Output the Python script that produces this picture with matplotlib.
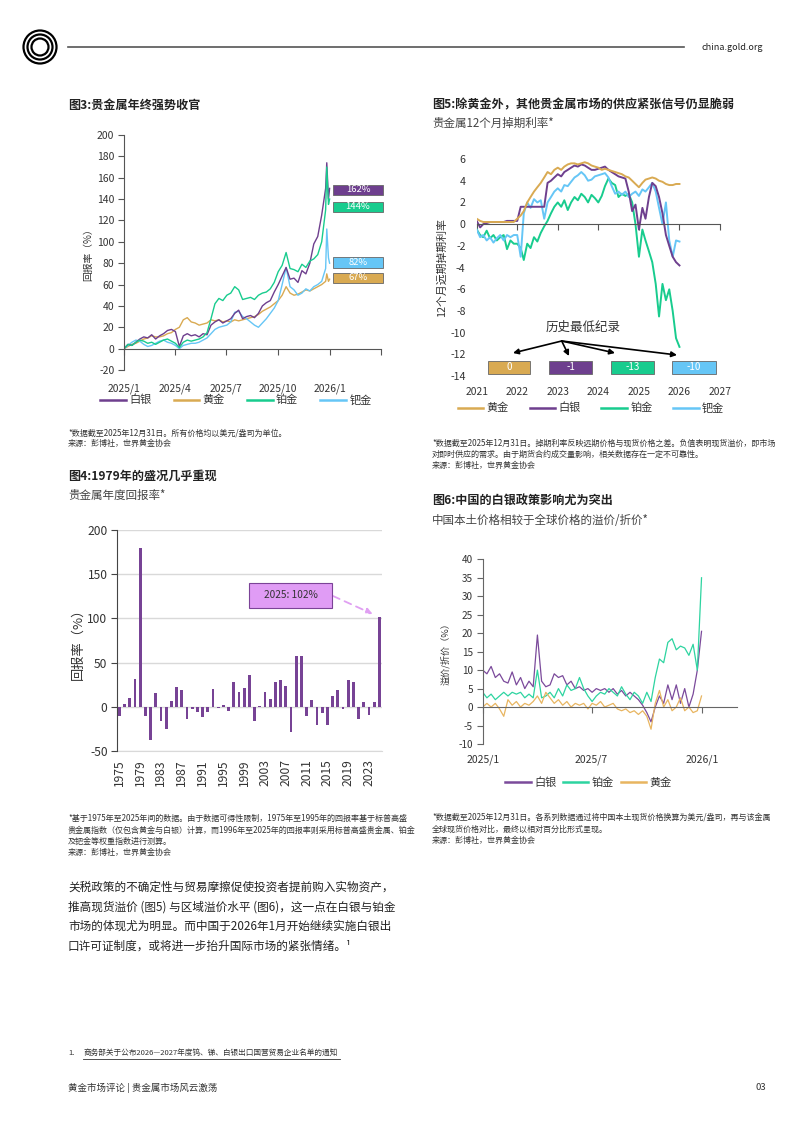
import numpy as np
import pandas as pd
import matplotlib
matplotlib.use("Agg")
import matplotlib.pyplot as plt
from matplotlib.patches import Rectangle, Circle
from matplotlib.lines import Line2D

plt.rcParams['font.family'] = ['Noto Sans CJK SC', 'DejaVu Sans']
plt.rcParams['axes.unicode_minus'] = False

# ---------------- data ----------------
# fig3: cumulative 2025 returns (%), weekly + last days of Dec
dates3 = list(pd.date_range('2025-01-01', periods=52, freq='7D')) + \
    list(pd.to_datetime(['2025-12-26', '2025-12-29', '2025-12-31']))
silver3 = [0, 4, 3, 6, 9, 11, 10, 13, 9, 12, 14, 17, 18, 16, 2, 12, 14, 12, 13, 11,
           14, 13, 22, 25, 27, 24, 26, 28, 33, 36, 28, 30, 31, 29, 33, 40, 43, 45, 53, 60,
           68, 76, 65, 66, 62, 73, 70, 80, 98, 105, 125, 150, 174, 140, 150]
gold3 = [0, 2, 4, 5, 7, 9, 10, 12, 11, 11, 12, 14, 15, 18, 20, 27, 29, 25, 24, 22,
         23, 24, 27, 26, 27, 25, 26, 25, 27, 26, 27, 28, 29, 30, 32, 35, 37, 39, 42, 45,
         50, 58, 52, 50, 51, 53, 55, 54, 56, 58, 60, 63, 70, 63, 65]
platinum3 = [0, 4, 3, 6, 8, 7, 5, 6, 4, 6, 8, 9, 7, 5, 1, 6, 8, 7, 8, 9,
             11, 15, 28, 42, 47, 45, 50, 52, 58, 55, 46, 47, 48, 46, 50, 52, 53, 56, 62, 72,
             78, 90, 75, 74, 72, 79, 76, 82, 84, 88, 100, 130, 170, 135, 140]
palladium3 = [0, 3, 6, 8, 7, 4, 2, 3, 5, 7, 8, 6, 5, 3, 0, 3, 4, 5, 5, 6,
              8, 10, 14, 18, 20, 21, 22, 25, 34, 35, 30, 28, 25, 22, 20, 24, 28, 33, 38, 45,
              60, 76, 58, 55, 50, 52, 56, 54, 58, 60, 63, 75, 112, 85, 80]
labels3 = ['162%', '144%', '82%', '67%']
ticks3 = pd.to_datetime(['2025-01-01', '2025-04-01', '2025-07-01', '2025-10-01', '2026-01-01', '2026-04-01'])
ticklabels3 = ['2025/1', '2025/4', '2025/7', '2025/10', '2026/1', '']

# fig5: 12-month forward rates (%), monthly
dates5 = pd.date_range('2021-01-01', '2026-01-01', freq='MS')
gold5 = [0.5, 0.3, 0.2, 0.2, 0.2, 0.2, 0.2, 0.2, 0.2, 0.2, 0.2, 0.2,
         0.5, 0.8, 1.2, 2.0, 2.5, 3.0, 3.4, 3.8, 4.3, 4.8, 4.6, 5.0,
         5.2, 5.0, 5.3, 5.5, 5.6, 5.6, 5.5, 5.6, 5.7, 5.6, 5.4, 5.3,
         5.2, 5.0, 5.1, 5.0, 4.9, 4.8, 4.7, 4.6, 4.4, 4.3, 4.0, 3.7,
         3.4, 3.8, 4.1, 4.2, 4.3, 4.2, 4.0, 3.9, 3.7, 3.6, 3.6, 3.7, 3.7]
silver5 = [0.3, -0.3, 0.0, 0.1, 0.2, 0.2, 0.2, 0.2, 0.2, 0.3, 0.3, 0.3,
           0.3, 1.6, 1.6, 1.6, 1.6, 1.6, 1.6, 1.6, 1.6, 3.8, 4.0, 4.3,
           4.6, 4.4, 4.8, 5.0, 5.2, 5.4, 5.3, 5.5, 5.4, 5.2, 5.0, 5.0,
           5.1, 5.2, 5.3, 5.0, 4.8, 4.6, 4.4, 4.3, 4.2, 3.0, 1.2, 1.8,
           -0.5, 1.5, 0.5, 2.5, 3.8, 3.5, 2.5, 1.0, -1.0, -2.0, -3.0, -3.5, -3.8]
platinum5 = [-0.5, -1.0, -1.2, -0.6, -1.3, -1.0, -1.5, -1.2, -1.0, -2.3, -1.5, -1.8,
             -1.8, -2.2, -3.3, -1.8, -2.2, -1.2, -1.6, -0.8, -0.2, 0.3, 1.0, 1.6,
             2.0, 1.6, 2.2, 1.3, 2.0, 2.5, 2.2, 2.8, 2.5, 2.0, 2.7, 2.4,
             2.0, 2.6, 3.5, 4.2, 3.8, 3.6, 2.5, 2.8, 2.6, 2.8, 2.0, 0.0,
             -3.0, -0.5, -1.5, -2.5, -3.5, -5.5, -8.5, -5.5, -7.0, -6.0, -8.0, -10.5, -11.3]
palladium5 = [-0.5, -1.2, -1.0, -1.5, -1.2, -1.7, -1.3, -1.0, -1.5, -1.0, -1.2, -1.0,
              -1.0, -3.0, 1.0, 2.0, 1.5, 2.3, 2.0, 2.2, 0.5, 2.0, 2.5, 3.0,
              3.3, 3.0, 3.6, 3.5, 3.9, 4.3, 4.5, 4.8, 4.5, 4.0, 4.1, 4.4,
              4.5, 4.6, 4.7, 4.3, 3.5, 2.8, 3.0, 2.7, 3.0, 2.5, 2.8, 3.0,
              2.6, 3.2, 3.0, 3.4, 3.8, 3.0, 1.5, 0.0, 2.0, -1.5, -3.0, -1.5, -1.6]
lows5 = ['0', '-1', '-13', '-10']
years5 = [2021, 2022, 2023, 2024, 2025, 2026, 2027]

# fig4: annual returns (%)
years4 = list(range(1975, 2026))
returns4 = [-10, 3, 9.5, 32, 180, -10, -38, 15.5, -16, -25,
            7, 22, 18.5, -14, -2, -6, -12, -5.5, 20, -1.5,
            2, -5, 28, 17, 21, 36, -16, 1, 17, 9,
            27.5, 30, 24, -28, 58, 57, -10.5, 7.5, -21, -7,
            -21, 12.5, 19, -3, 30.5, 28, -14, 5, -9, 5, 102]

# fig6: China premium/discount (%), weekly
dates6 = pd.date_range('2025-01-01', periods=53, freq='7D')
silver6 = [10, 9, 11, 8, 9, 7, 6.5, 9.5, 6, 8, 5, 7, 5.5, 19.5, 7, 5.5, 6, 9, 8, 8.5,
           6, 7, 5, 5.5, 4.5, 5, 4, 5, 4.5, 5, 4, 5, 3.5, 4.5, 3, 4, 3, 2, 0.5, -1.5,
           -4, 0, 3, 1, 6, 2, 6, 1, 5, 0, 3.5, 10, 20.5]
platinum6 = [4, 2.5, 3.5, 2, 3, 4, 3, 4, 3.5, 4, 2.5, 3.5, 2.5, 10, 2.5, 3, 4, 2.5, 5, 3,
             6, 4.5, 5, 8, 5, 3, 1.5, 3, 4, 3.5, 5, 4, 3, 5.5, 3.5, 2, 4, 3, 1, 4,
             1.5, 8, 13, 12, 17.5, 18.5, 15.5, 16.5, 16, 14, 17, 10, 35]
gold6 = [0, 1, 0, 1, -0.5, -2.5, 2, 0.5, 1.5, 0, 1, 0.5, 1.5, 3, 1, 4, 2.5, 1, 2, 0.5,
         1.5, 0, 1, 0.5, 1, -0.5, 1, 0.5, 1.5, 0, 0.5, 1, -0.5, -1, -0.5, -1.5, -1, -2, -1, -2.5,
         -6, 1, 4.5, 0, 2, -1, 0, 2.5, -1, 0, -1.5, -1, 3]
ticks6 = pd.to_datetime(['2025-01-01', '2025-07-01', '2026-01-01'])
ticklabels6 = ['2025/1', '2025/7', '2026/1']

C_SILVER = '#6E3F8E'
C_GOLD = '#D9AA52'
C_PLAT = '#18CC8E'
C_PALL = '#66C6F6'
TXT = '#333333'

W, H = 794, 1123
fig = plt.figure(figsize=(W / 100, H / 100), dpi=100)


def fx(x):
    return x / W


def fy(y):
    return 1 - y / H


def box(x0, y0, x1, y1):
    return [fx(x0), fy(y1), (x1 - x0) / W, (y1 - y0) / H]


def frect(x0, y0, x1, y1, **kw):
    fig.add_artist(Rectangle((fx(x0), fy(y1)), (x1 - x0) / W, (y1 - y0) / H,
                             transform=fig.transFigure, **kw))


def ftext(x, y, s, size, **kw):
    kw.setdefault('color', TXT)
    kw.setdefault('va', 'center')
    fig.text(fx(x), fy(y), s, fontsize=size, **kw)


# ---------------- header / footer ----------------
for r in [0.165, 0.125, 0.085]:
    fig.add_artist(Circle((0.40, (H - 47) / 100), r, transform=fig.dpi_scale_trans,
                          fill=False, lw=1.6, color='black'))
fig.add_artist(Line2D([fx(68), fx(684)], [fy(47), fy(47)], transform=fig.transFigure,
                      color='#555555', lw=1.2))
ftext(763, 47, 'china.gold.org', 6.5, ha='right', color='#222222')

ftext(68, 1053, '1.', 5.5)
ftext(83, 1053, '商务部关于公布2026—2027年度钨、锑、白银出口国营贸易企业名单的通知', 5.5)
fig.add_artist(Line2D([fx(83), fx(340)], [fy(1059), fy(1059)], transform=fig.transFigure,
                      color=TXT, lw=0.6))
ftext(68, 1088, '黄金市场评论 | 贵金属市场风云激荡', 6.8)
ftext(766, 1088, '03', 6.8, ha='right')

# ---------------- fig3 ----------------
ftext(68, 105, '图3:贵金属年终强势收官', 8.7, fontweight='bold', color='#222222')
ax3 = fig.add_axes(box(124, 135, 381, 370))
ax3.plot(dates3, gold3, color=C_GOLD, lw=1.0)
ax3.plot(dates3, palladium3, color=C_PALL, lw=1.0)
ax3.plot(dates3, silver3, color=C_SILVER, lw=1.0)
ax3.plot(dates3, platinum3, color=C_PLAT, lw=1.0)
ax3.set_xlim(ticks3[0], ticks3[-1])
ax3.set_ylim(-20, 200)
ax3.set_yticks(range(-20, 201, 20))
ax3.set_xticks(ticks3)
ax3.set_xticklabels(ticklabels3)
for s in ['top', 'right']:
    ax3.spines[s].set_visible(False)
ax3.spines['bottom'].set_position(('data', 0))
for s in ['bottom', 'left']:
    ax3.spines[s].set_color('#555555')
ax3.tick_params(axis='y', labelsize=7.5, length=4, color='#555555', labelcolor=TXT, pad=3)
ax3.tick_params(axis='x', labelsize=7.4, length=4, color='#555555', labelcolor=TXT, pad=21)
ax3.set_ylabel('回报率（%）', fontsize=7, color=TXT, labelpad=3)
box_cols3 = [C_SILVER, C_PLAT, C_PALL, C_GOLD]
box_y3 = [190, 206.7, 262.5, 277.7]
for lab, col, yc in zip(labels3, box_cols3, box_y3):
    frect(333, yc - 5, 383, yc + 5, facecolor=col, edgecolor='#666666', lw=0.6)
    ftext(358, yc, lab, 6.8, ha='center', color='white')
h3 = [Line2D([], [], color=c, lw=1.8) for c in [C_SILVER, C_GOLD, C_PLAT, C_PALL]]
fig.legend(h3, ['白银', '黄金', '铂金', '钯金'], loc='center', bbox_to_anchor=(fx(236), fy(400)),
           ncol=4, frameon=False, fontsize=8, handlelength=2.3, handletextpad=0.3,
           columnspacing=2.0, labelcolor=TXT)
ftext(68, 433, '*数据截至2025年12月31日。所有价格均以美元/盎司为单位。', 5.8)
ftext(68, 443.5, '来源：彭博社，世界黄金协会', 5.8)

# ---------------- fig5 ----------------
ftext(432, 105, '图5:除黄金外，其他贵金属市场的供应紧张信号仍显脆弱', 8.7, fontweight='bold', color='#222222')
ftext(432, 123.5, '贵金属12个月掉期利率*', 8.3, color='#444444')
ax5 = fig.add_axes(box(476.7, 159, 720, 376.2))
ax5.plot(dates5, platinum5, color=C_PLAT, lw=1.4)
ax5.plot(dates5, palladium5, color=C_PALL, lw=1.4)
ax5.plot(dates5, silver5, color=C_SILVER, lw=1.4)
ax5.plot(dates5, gold5, color=C_GOLD, lw=1.4)
yt5 = [pd.Timestamp(f'{y}-01-01') for y in years5]
ax5.set_xlim(yt5[0], yt5[-1])
ax5.set_ylim(-14, 6)
ax5.set_yticks(range(-14, 7, 2))
ax5.set_xticks(yt5)
ax5.set_xticklabels([str(y) for y in years5])
for s in ['top', 'right', 'left']:
    ax5.spines[s].set_visible(False)
ax5.spines['bottom'].set_position(('data', 0))
ax5.spines['bottom'].set_color('#555555')
ax5.tick_params(axis='y', labelsize=7.6, length=0, labelcolor=TXT, pad=8)
ax5.tick_params(axis='x', labelsize=7.4, length=4, color='#555555', labelcolor=TXT, pad=113)
ax5.set_ylabel('12个月远期掉期利率', fontsize=7.8, color=TXT, labelpad=2)
ftext(583, 327, '历史最低纪录', 9, ha='center', color='#333333')
for tx, ty in [(513, 353), (569, 356), (615, 353), (677, 355)]:
    ax5.annotate('', xy=(fx(tx), fy(ty)), xytext=(fx(561.7), fy(341)),
                 xycoords='figure fraction', textcoords='figure fraction',
                 arrowprops=dict(arrowstyle='-|>', color='black', lw=1.2,
                                 mutation_scale=8, shrinkA=0, shrinkB=0),
                 annotation_clip=False)
box_x5 = [(487.7, 530), (549, 592), (610.7, 654), (672, 716)]
for lab, col, (x0, x1) in zip(lows5, [C_GOLD, C_SILVER, C_PLAT, C_PALL], box_x5):
    frect(x0, 360.7, x1, 374.3, facecolor=col, edgecolor='#666666', lw=0.6)
    ftext((x0 + x1) / 2, 367.5, lab, 7, ha='center', color='white')
h5 = [Line2D([], [], color=c, lw=1.8) for c in [C_GOLD, C_SILVER, C_PLAT, C_PALL]]
fig.legend(h5, ['黄金', '白银', '铂金', '钯金'], loc='center', bbox_to_anchor=(fx(591), fy(408)),
           ncol=4, frameon=False, fontsize=8, handlelength=2.3, handletextpad=0.3,
           columnspacing=1.85, labelcolor=TXT)
ftext(432, 443, '*数据截至2025年12月31日。掉期利率反映远期价格与现货价格之差。负值表明现货溢价，即市场', 5.8)
ftext(432, 454, '对即时供应的需求。由于期货合约成交量影响，相关数据存在一定不可靠性。', 5.8)
ftext(432, 465, '来源：彭博社，世界黄金协会', 5.8)

# ---------------- fig4 ----------------
ftext(68, 476, '图4:1979年的盛况几乎重现', 8.7, fontweight='bold', color='#222222')
ftext(68, 495, '贵金属年度回报率*', 8.3, color='#444444')
ax4 = fig.add_axes(box(117.3, 530, 381.7, 751))
ax4.bar(years4, returns4, width=0.55, color='#774395', zorder=3)
ax4.set_xlim(1974.6, 2025.45)
ax4.set_ylim(-50, 200)
ax4.set_yticks(range(-50, 201, 50))
ax4.set_xticks(years4[::4])
ax4.set_xticklabels([str(y) for y in years4[::4]], rotation=90)
ax4.grid(axis='y', color='#D9D9D9', lw=1.0, zorder=0)
for s in ['top', 'right']:
    ax4.spines[s].set_visible(False)
ax4.spines['bottom'].set_color('#D9D9D9')
ax4.spines['left'].set_color('#444444')
ax4.spines['left'].set_zorder(4)
ax4.tick_params(axis='y', labelsize=8.7, length=4, color='#444444', labelcolor=TXT, pad=3)
ax4.tick_params(axis='x', labelsize=8.7, length=0, labelcolor=TXT, pad=6)
ax4.set_ylabel('回报率（%）', fontsize=9.5, color=TXT, labelpad=2)
frect(249, 583, 332, 608, facecolor='#E09CF5', edgecolor='#7B4397', lw=0.8)
ftext(290.5, 595.5, '2025: 102%', 7.3, ha='center')
ax4.annotate('', xy=(2023.7, 105), xytext=(fx(333), fy(596)),
             xycoords='data', textcoords='figure fraction',
             arrowprops=dict(arrowstyle='-|>', color='#E0A0F2', lw=1.3, ls=(0, (4, 3)),
                             mutation_scale=9, shrinkA=0, shrinkB=0),
             annotation_clip=False)
ftext(68, 818, '*基于1975年至2025年间的数据。由于数据可得性限制，1975年至1995年的回报率基于标普高盛', 5.8)
ftext(68, 830, '贵金属指数（仅包含黄金与白银）计算，而1996年至2025年的回报率则采用标普高盛贵金属、铂金', 5.8)
ftext(68, 841, '及钯金等权重指数进行测算。', 5.8)
ftext(68, 852, '来源：彭博社，世界黄金协会', 5.8)

# ---------------- fig6 ----------------
ftext(432, 500.5, '图6:中国的白银政策影响尤为突出', 8.7, fontweight='bold', color='#222222')
ftext(432, 520, '中国本土价格相较于全球价格的溢价/折价*', 8.3, color='#444444')
ax6 = fig.add_axes(box(482.7, 559.3, 737, 744))
ax6.plot(dates6, silver6, color='#7B4A9B', lw=0.9)
ax6.plot(dates6, platinum6, color='#2DD4A0', lw=0.9)
ax6.plot(dates6, gold6, color='#E8B560', lw=0.9)
ax6.set_xlim(pd.Timestamp('2025-01-01'), pd.Timestamp('2026-02-28'))
ax6.set_ylim(-10, 40)
ax6.set_yticks(range(-10, 41, 5))
ax6.set_xticks(ticks6)
ax6.set_xticklabels(ticklabels6)
for s in ['top', 'right']:
    ax6.spines[s].set_visible(False)
ax6.spines['bottom'].set_position(('data', 0))
for s in ['bottom', 'left']:
    ax6.spines[s].set_color('#666666')
ax6.tick_params(axis='y', labelsize=7.2, length=4, color='#666666', labelcolor=TXT, pad=3)
ax6.tick_params(axis='x', labelsize=7.5, length=4, color='#666666', labelcolor=TXT, pad=30)
ax6.set_ylabel('溢价/折价（%）', fontsize=6.6, color=TXT, labelpad=6)
h6 = [Line2D([], [], color=c, lw=1.8) for c in ['#7B4A9B', '#2DD4A0', '#E8B560']]
fig.legend(h6, ['白银', '铂金', '黄金'], loc='center', bbox_to_anchor=(fx(588.5), fy(783)),
           ncol=3, frameon=False, fontsize=8, handlelength=2.3, handletextpad=0.3,
           columnspacing=0.6, labelcolor=TXT)
ftext(432, 817, '*数据截至2025年12月31日。各系列数据通过将中国本土现货价格换算为美元/盎司，再与该金属', 5.8)
ftext(432, 829, '全球现货价格对比，最终以相对百分比形式呈现。', 5.8)
ftext(432, 840, '来源：彭博社，世界黄金协会', 5.8)

# ---------------- body text ----------------
body = ['关税政策的不确定性与贸易摩擦促使投资者提前购入实物资产，',
        '推高现货溢价 (图5) 与区域溢价水平 (图6)，这一点在白银与铂金',
        '市场的体现尤为明显。而中国于2026年1月开始继续实施白银出',
        '口许可证制度，或将进一步抬升国际市场的紧张情绪。¹']
for i, line in enumerate(body):
    ftext(68, 887.5 + i * 19.5, line, 8.4, color='#222222')

fig.savefig('out.png', dpi=100)
